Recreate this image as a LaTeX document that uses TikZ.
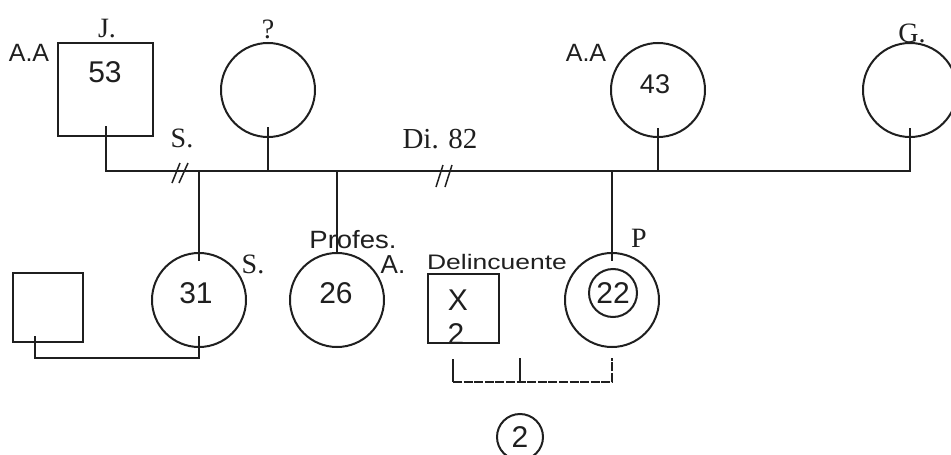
\documentclass[tikz,border=0pt]{standalone}
\usepackage{fontspec}
\setmainfont{Liberation Serif}
\setsansfont{Liberation Sans}
\begin{document}
\begin{tikzpicture}[x=1pt,y=-1pt,
  ink/.style={black!88},
  line/.style={ink, line width=2pt},
  dline/.style={ink, line width=2.6pt, dash pattern=on 9pt off 1.6pt},
  person/.style={draw=black!88, line width=2pt, inner sep=0pt},
  circ/.style={person, circle, minimum size=94pt},
  sq/.style={person, rectangle},
  lab/.style={inner sep=0pt, text=black!88},
  sanslab/.style={lab, font=\sffamily\fontsize{25}{25}\selectfont},
  num/.style={lab, font=\sffamily\fontsize{30}{30}\selectfont},
  serlab/.style={lab, font=\rmfamily\fontsize{28}{28}\selectfont},
  slash/.style={ink, line width=1.5pt}
]
\useasboundingbox (0,0) rectangle (951,455);

% ---- parents' generation
\node[sq, minimum width=95pt, minimum height=93pt] (J) at (105.5,89.5) {};
\node[circ] (Q) at (268,90) {};
\node[circ] (M) at (658,90) {};
\node[circ] (G) at (910,90) {};

\node[sanslab] (aa1) at (29,53) {A.A};
\node[serlab] (jl) at (107,29) {J.};
\node[num] (n53) at (105,72) {53};
\node[serlab] (ql) at (268,29) {?};
\node[sanslab] (aa2) at (586,53) {A.A};
\node[num, font=\sffamily\fontsize{27}{27}\selectfont] (n43) at (655,84) {43};
\node[serlab] (gl) at (912,33) {G.};
\node[serlab] (s1) at (182,138) {S.};
\node[serlab, font=\rmfamily\fontsize{29}{29}\selectfont] (di) at (440,139) {Di. 82};

\coordinate (cl) at (0,171);
\draw[line] ([yshift=11pt]J.south) -- (J.south |- cl) -- (G.south |- cl) -- ([yshift=10pt]G.south);
\draw[line] ([yshift=11pt]Q.south) -- (Q.south |- cl);
\draw[line] ([yshift=10pt]M.south) -- (M.south |- cl);

% divorce marks
\draw[slash] (172,183) -- (180,163);
\draw[slash] (179,183) -- (188,163);
\draw[slash] (436,187) -- (443,165);
\draw[slash] (445,187) -- (452,165);

% ---- children's generation
\node[sq, minimum width=70pt, minimum height=69pt] (L) at (48,307.5) {};
\node[circ] (c31) at (199,300) {};
\node[circ] (c26) at (337,300) {};
\node[sq, minimum width=71pt, minimum height=69pt] (X) at (463.5,308.5) {};
\node[circ] (c22) at (612,300) {};
\node[person, circle, minimum size=48pt] (c22in) at (613,293) {};

\node[num] (n31) at (196,293) {31};
\node[num] (n26) at (336,293) {26};
\node[num] (nx) at (458,300) {X};
\node[num] (nx2) at (456,334) {2};
\node[num] (n22) at (613,293) {22};
\node[serlab] (s2) at (253,264) {S.};
\node[lab, font=\sffamily\fontsize{25}{25}\selectfont] (prof) at (353,240) {\scalebox{1.1}[1]{Profes.}};
\node[lab, font=\sffamily\fontsize{26}{26}\selectfont] (al) at (393,265) {A.};
\node[lab, font=\sffamily\fontsize{21}{21}\selectfont] (del) at (497,262) {\scalebox{1.26}[1]{Delincuente}};
\node[serlab] (pl) at (639,238) {P};

\draw[line] (c31.north |- cl) -- ([yshift=-9pt]c31.north);
\draw[line] (c26.north |- cl) -- ([yshift=-2pt]c26.north);
\draw[line] (c22.north |- cl) -- ([yshift=-9pt]c22.north);

% left couple
\coordinate (pr) at (0,358);
\draw[line] ([xshift=-13pt,yshift=7pt]L.south) -- ([xshift=-13pt]L.south |- pr) -- (c31.south |- pr) -- ([yshift=12pt]c31.south);

% bottom couple and child
\node[person, circle, minimum size=46pt, lab, font=\sffamily\fontsize{30}{30}\selectfont] (two) at (520,437) {2};
\coordinate (bl) at (0,382);
\draw[line] ([xshift=-10.5pt,yshift=-15pt]X.south) -- ([xshift=-10.5pt]X.south |- bl);
\draw[dline] ([xshift=-10.5pt]X.south |- bl) -- (c22.south |- bl) -- ([yshift=-10pt]c22.south);
\draw[line] (two.north |- bl) -- (two.north |- pr);
\end{tikzpicture}
\end{document}
